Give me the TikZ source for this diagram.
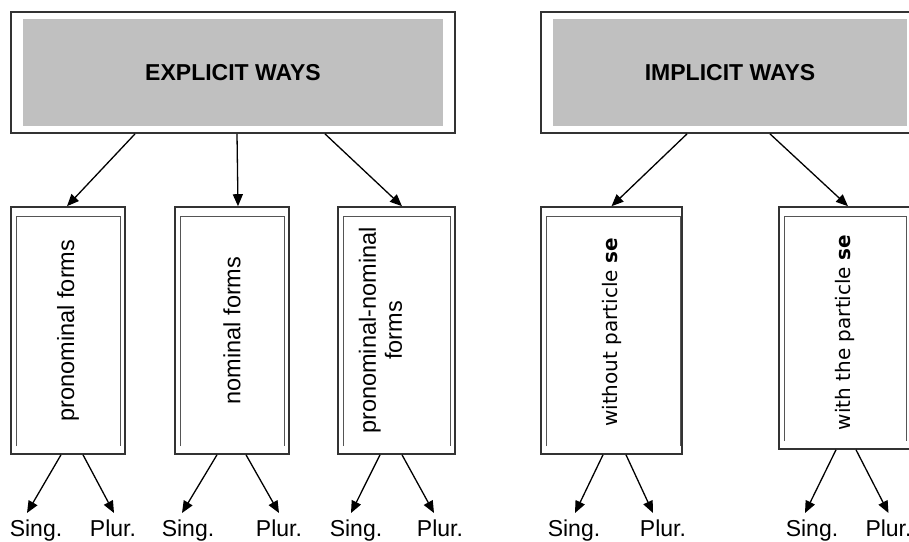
\documentclass[tikz,border=0pt]{standalone}
\usepackage{fontspec}
\setmainfont{Liberation Sans}
\newfontfamily\dejavu{DejaVu Sans}
\usepackage{tikz}
\usetikzlibrary{arrows.meta}
\usepackage{xcolor}
\definecolor{waysgray}{HTML}{C0C0C0}
\definecolor{framegray}{HTML}{333333}
\definecolor{innergray}{HTML}{555555}

\begin{document}
\begin{tikzpicture}[x=1pt, y=-1pt, >={Triangle[length=12pt,width=10pt]},
    every path/.style={line width=1.3pt},
    waysbox/.style={draw=framegray, line width=1.8pt, inner sep=0pt, minimum height=121pt,
        font=\fontsize{23}{27}\selectfont\bfseries,
        path picture={\fill[waysgray] ([shift={(12pt,-7pt)}]path picture bounding box.north west)
            rectangle ([shift={(-12pt,7pt)}]path picture bounding box.south east);}},
    formbox/.style 2 args={draw=framegray, line width=1.6pt, inner sep=0pt,
        minimum width=#1, minimum height=247pt,
        path picture={\draw[innergray, line width=0.9pt]
            ([shift={(5pt,8pt)}]path picture bounding box.south west)
            |- ([shift={(-#2,-9pt)}]path picture bounding box.north east)
            -- ([shift={(-#2,8pt)}]path picture bounding box.south east);}},
    formtext/.style={rotate=90, inner sep=0pt, font=\fontsize{23.5}{26}\selectfont},
    setext/.style={rotate=90, inner sep=0pt, font=\dejavu\fontsize{20}{24}\selectfont},
    number/.style={anchor=north, inner xsep=0pt, inner ysep=6pt, font=\fontsize{23}{27}\selectfont}]
    \useasboundingbox (0,0) rectangle (909,541);

    % headers
    \node[waysbox, minimum width=444pt] (explicit) at (233,72.5) {EXPLICIT WAYS};
    \node[waysbox, minimum width=378pt] (implicit) at (730,72.5) {IMPLICIT WAYS};

    % forms
    \node[formbox={114pt}{5pt}] (pron) at (68,330.5) {};
    \node[formbox={114pt}{5pt}] (nom) at (232,330.5) {};
    \node[formbox={117pt}{5pt}] (pronnom) at (396.5,330.5) {};
    \node[formbox={141pt}{2pt}] (without) at (611.5,330.5) {};
    \node[formbox={132pt}{5pt}, minimum height=242pt] (with) at (845,328) {};

    \node[formtext] (pron-t) at (pron) {pronominal forms};
    \node[formtext] (nom-t) at (nom) {nominal forms};
    \node[formtext, align=center] (pronnom-t) at ([xshift=-16pt]pronnom.center) {pronominal-nominal\\forms};
    \node[setext] (without-t) at ([yshift=-2pt]without.center) {without particle \textbf{se}};
    \node[setext] (with-t) at ([yshift=-4.5pt]with.center) {with the particle \textbf{se}};

    \draw[->] ([xshift=-98pt]explicit.south) -- ([xshift=-1pt]pron.north);
    \draw[->] ([xshift=4pt]explicit.south) -- ([xshift=6pt]nom.north);
    \draw[->] ([xshift=92pt]explicit.south) -- ([xshift=5.5pt]pronnom.north);
    \draw[->] ([xshift=-43pt]implicit.south) -- (without.north);
    \draw[->] ([xshift=40pt]implicit.south) -- ([xshift=3pt]with.north);

    % number
    \node[number] (sing1) at (36,513) {Sing.};
    \node[number] (plur1) at (113,513) {Plur.};
    \node[number] (sing2) at (188,513) {Sing.};
    \node[number] (plur2) at (279,513) {Plur.};
    \node[number] (sing3) at (356,513) {Sing.};
    \node[number] (plur3) at (440,513) {Plur.};
    \node[number] (sing4) at (574,513) {Sing.};
    \node[number] (plur4) at (663,513) {Plur.};
    \node[number] (sing5) at (812,513) {Sing.};
    \node[number] (plur5) at (888.5,513) {Plur.};

    \draw[->] ([xshift=-7pt]pron.south) -- ([xshift=-9pt]sing1.north);
    \draw[->] ([xshift=15pt]pron.south) -- ([xshift=1pt]plur1.north);
    \draw[->] ([xshift=-15pt]nom.south) -- ([xshift=-6pt]sing2.north);
    \draw[->] ([xshift=14pt]nom.south) -- (plur2.north);
    \draw[->] ([xshift=-16.5pt]pronnom.south) -- ([xshift=-5pt]sing3.north);
    \draw[->] ([xshift=5.5pt]pronnom.south) -- ([xshift=-6pt]plur3.north);
    \draw[->] ([xshift=-8.5pt]without.south) -- ([xshift=1pt]sing4.north);
    \draw[->] ([xshift=14.5pt]without.south) -- ([xshift=-10pt]plur4.north);
    \draw[->] ([xshift=-9pt]with.south) -- ([xshift=-7pt]sing5.north);
    \draw[->] ([xshift=11pt]with.south) -- (plur5.north);
\end{tikzpicture}
\end{document}
